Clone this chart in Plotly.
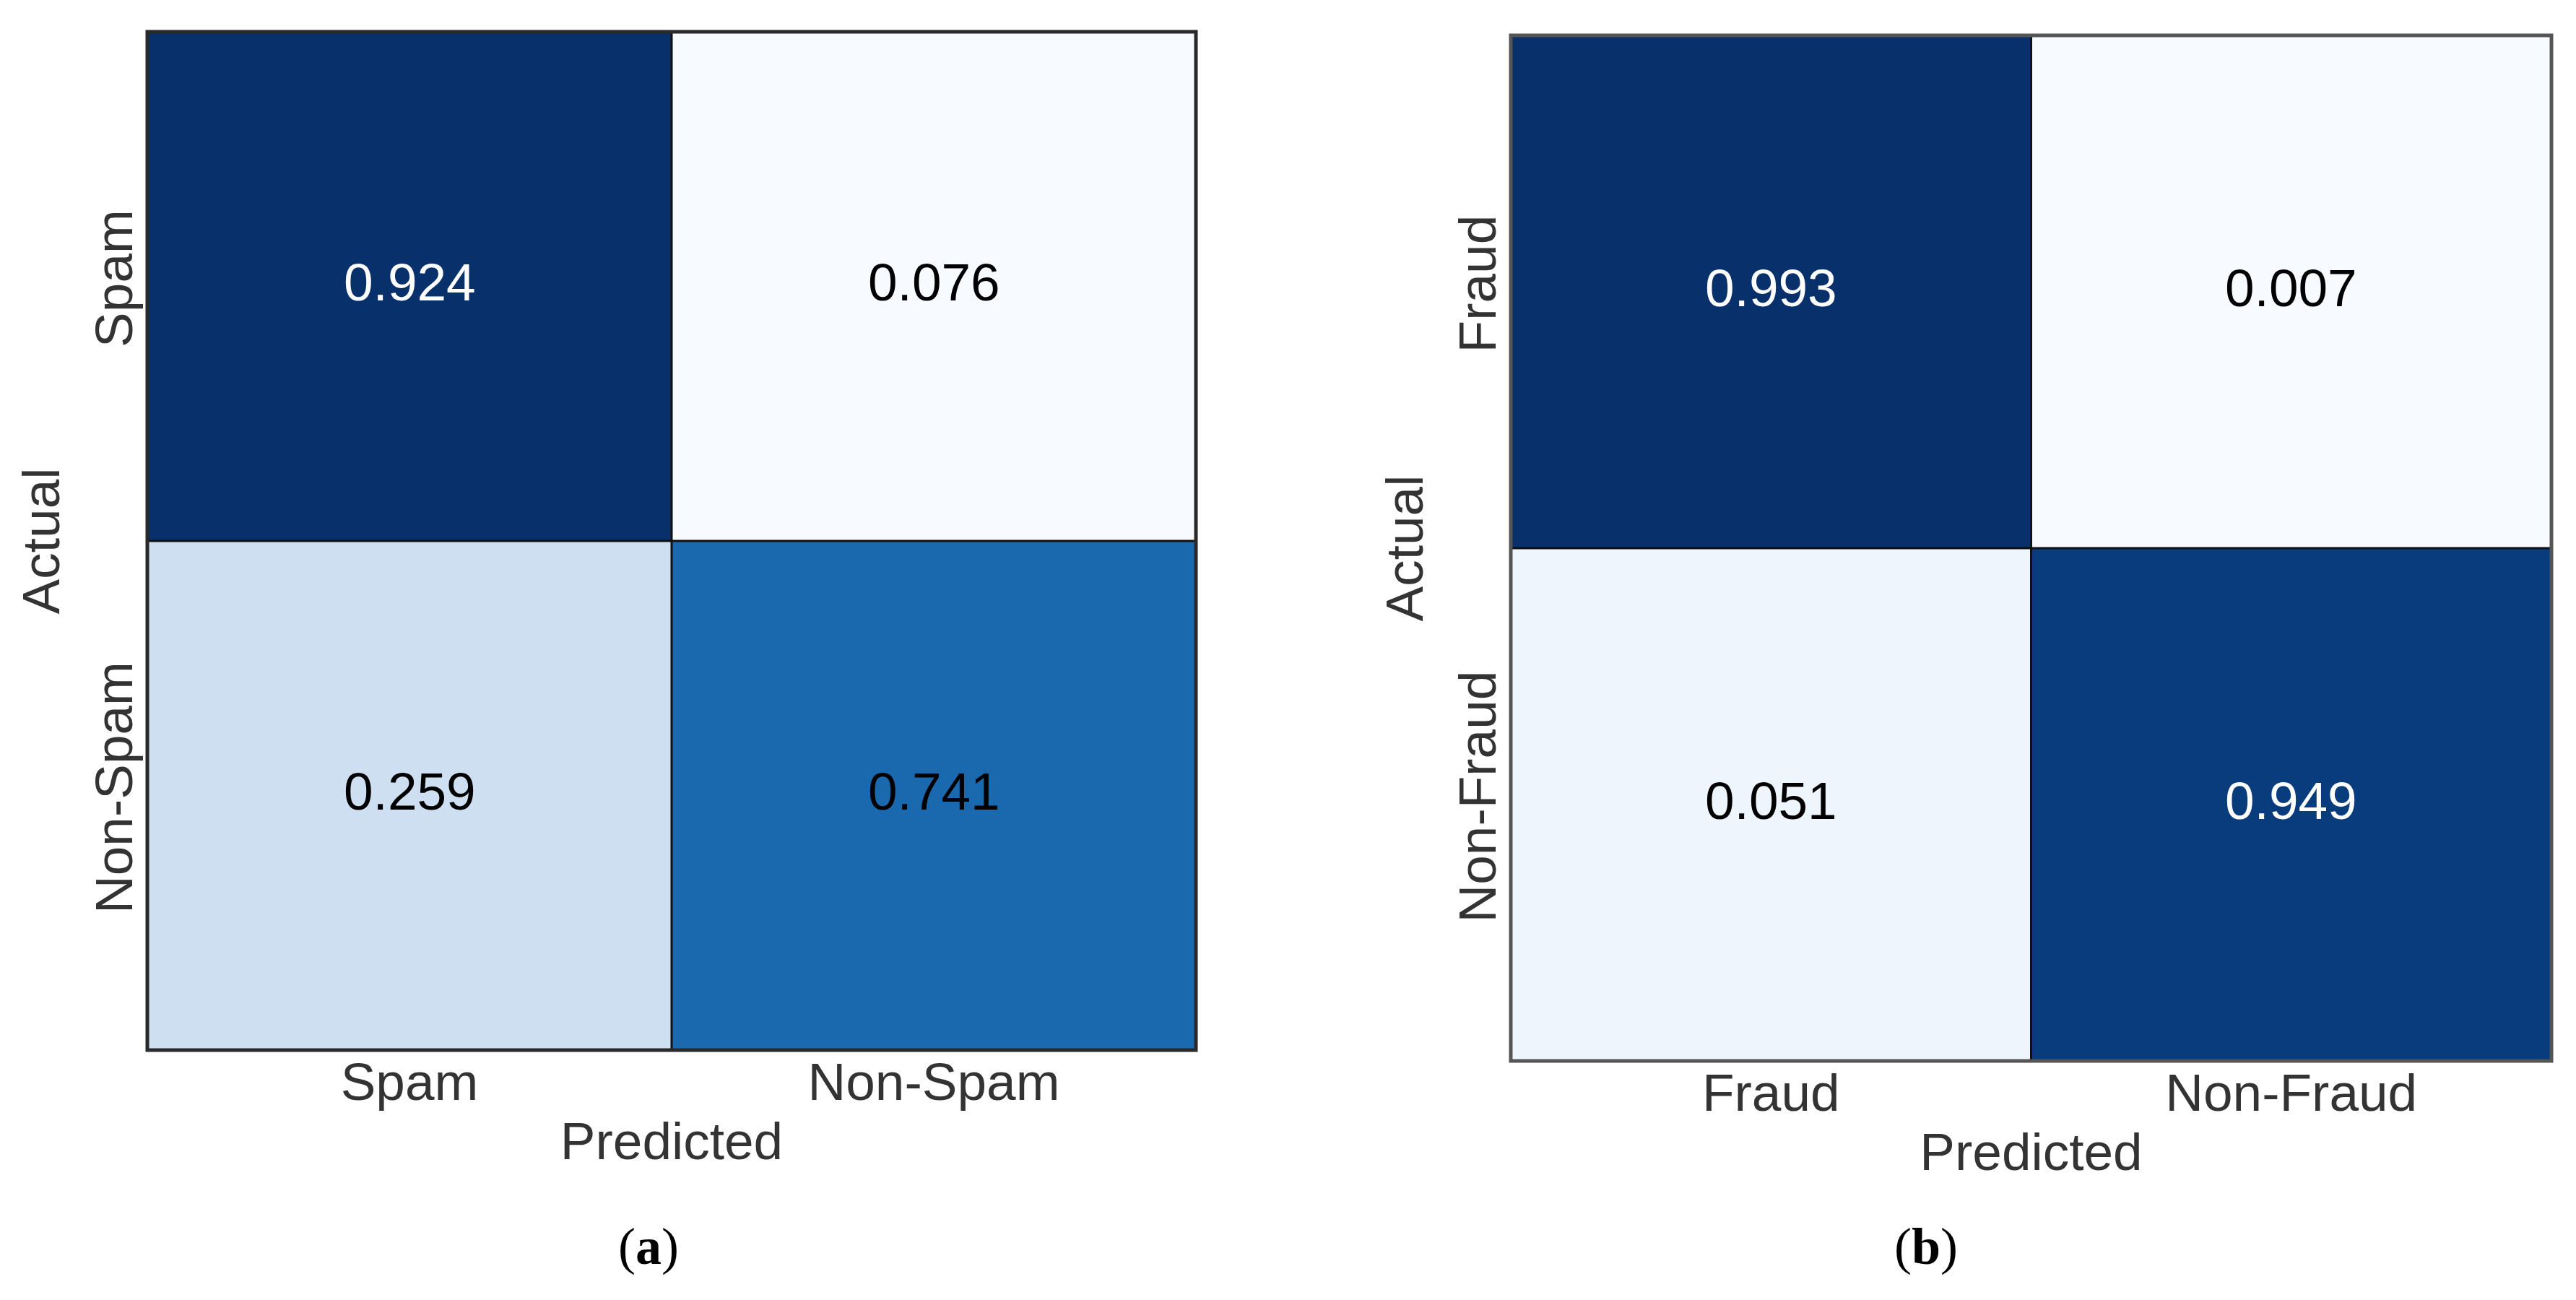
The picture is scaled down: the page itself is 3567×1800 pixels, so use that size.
import plotly.graph_objects as go

# ---------------- data ----------------
spam_labels = ["Spam", "Non-Spam"]
spam_values = [[0.924, 0.076],
               [0.259, 0.741]]

fraud_labels = ["Fraud", "Non-Fraud"]
fraud_values = [[0.993, 0.007],
                [0.051, 0.949]]

x_title = "Predicted"
y_title = "Actual"
captions = ["(<b>a</b>)", "(<b>b</b>)"]

# ---------------- style ----------------
blues = [[0.0, "rgb(247,251,255)"], [0.125, "rgb(222,235,247)"],
         [0.25, "rgb(198,219,239)"], [0.375, "rgb(158,202,225)"],
         [0.5, "rgb(107,174,214)"], [0.625, "rgb(66,146,198)"],
         [0.75, "rgb(33,113,181)"], [0.875, "rgb(8,81,156)"],
         [1.0, "rgb(8,48,107)"]]
text_colors_a = [["white", "black"], ["black", "black"]]
text_colors_b = [["white", "black"], ["black", "white"]]

W, H = 3567, 1800
FONT = "Liberation Sans, Arial, Helvetica, sans-serif"
FS = 73
LABEL_COLOR = "#333333"

# panel boxes in pixels (left, top, right, bottom)
boxes = [(196, 36, 1648, 1446), (2084, 41, 3525, 1461)]


def dom(box):
    l, t, r, b = box
    return [l / W, r / W], [1 - b / H, 1 - t / H]


fig = go.Figure()
panels = [(spam_labels, spam_values, text_colors_a),
          (fraud_labels, fraud_values, text_colors_b)]

for k, (labels, vals, tcols) in enumerate(panels):
    xa = "x" if k == 0 else "x2"
    ya = "y" if k == 0 else "y2"
    flat = [v for row in vals for v in row]
    fig.add_trace(go.Heatmap(
        x=labels, y=labels, z=vals, xaxis=xa, yaxis=ya,
        colorscale=blues, zmin=min(flat), zmax=max(flat),
        showscale=False, hoverinfo="skip"))
    for i, row in enumerate(vals):
        for j, v in enumerate(row):
            fig.add_annotation(x=labels[j], y=labels[i], xref=xa, yref=ya,
                               text=f"{v:.3f}", showarrow=False, yshift=6,
                               font=dict(family=FONT, size=FS, color=tcols[i][j]))
    xd, yd = dom(boxes[k])
    axis_common = dict(ticks="", showgrid=False, zeroline=False, showline=False,
                       tickfont=dict(family=FONT, size=FS, color=LABEL_COLOR),
                       fixedrange=True)
    xkey = "xaxis" if k == 0 else "xaxis2"
    ykey = "yaxis" if k == 0 else "yaxis2"
    fig.update_layout({
        xkey: dict(domain=xd, anchor=ya, ticklabelstandoff=-5,
                   title=dict(text=x_title, standoff=16,
                   font=dict(family=FONT, size=FS, color=LABEL_COLOR)), **axis_common),
        ykey: dict(domain=yd, anchor=xa, autorange="reversed", tickangle=-90,
                   ticklabelstandoff=5,
                   title=dict(text=y_title, standoff=10,
                   font=dict(family=FONT, size=FS, color=LABEL_COLOR)), **axis_common),
    })
    xdr = xa + " domain"
    ydr = ya + " domain"
    # inner dividers
    fig.add_shape(type="line", xref=xdr, yref=ydr, x0=0.5, x1=0.5, y0=0, y1=1,
                  line=dict(color="#111111", width=3), layer="above")
    fig.add_shape(type="line", xref=xdr, yref=ydr, x0=0, x1=1, y0=0.5, y1=0.5,
                  line=dict(color="#111111", width=3), layer="above")
    # outer frame
    fig.add_shape(type="rect", xref=xdr, yref=ydr, x0=0, x1=1, y0=0, y1=1,
                  line=dict(color="#2a2a2a" if k == 0 else "#555555", width=5),
                  layer="above")

# captions
cap_pos = [(846, 1760), (2705, 1760)]
for cap, (cx, cy) in zip(captions, cap_pos):
    fig.add_annotation(x=cx / W, y=1 - cy / H, xref="paper", yref="paper",
                       text=cap, showarrow=False,
                       font=dict(family="Liberation Serif, Times New Roman, serif",
                                 size=72, color="black"))

fig.update_layout(width=W, height=H, margin=dict(l=0, r=0, t=0, b=0),
                  paper_bgcolor="white", plot_bgcolor="white", showlegend=False)

fig.write_html("out.html")
